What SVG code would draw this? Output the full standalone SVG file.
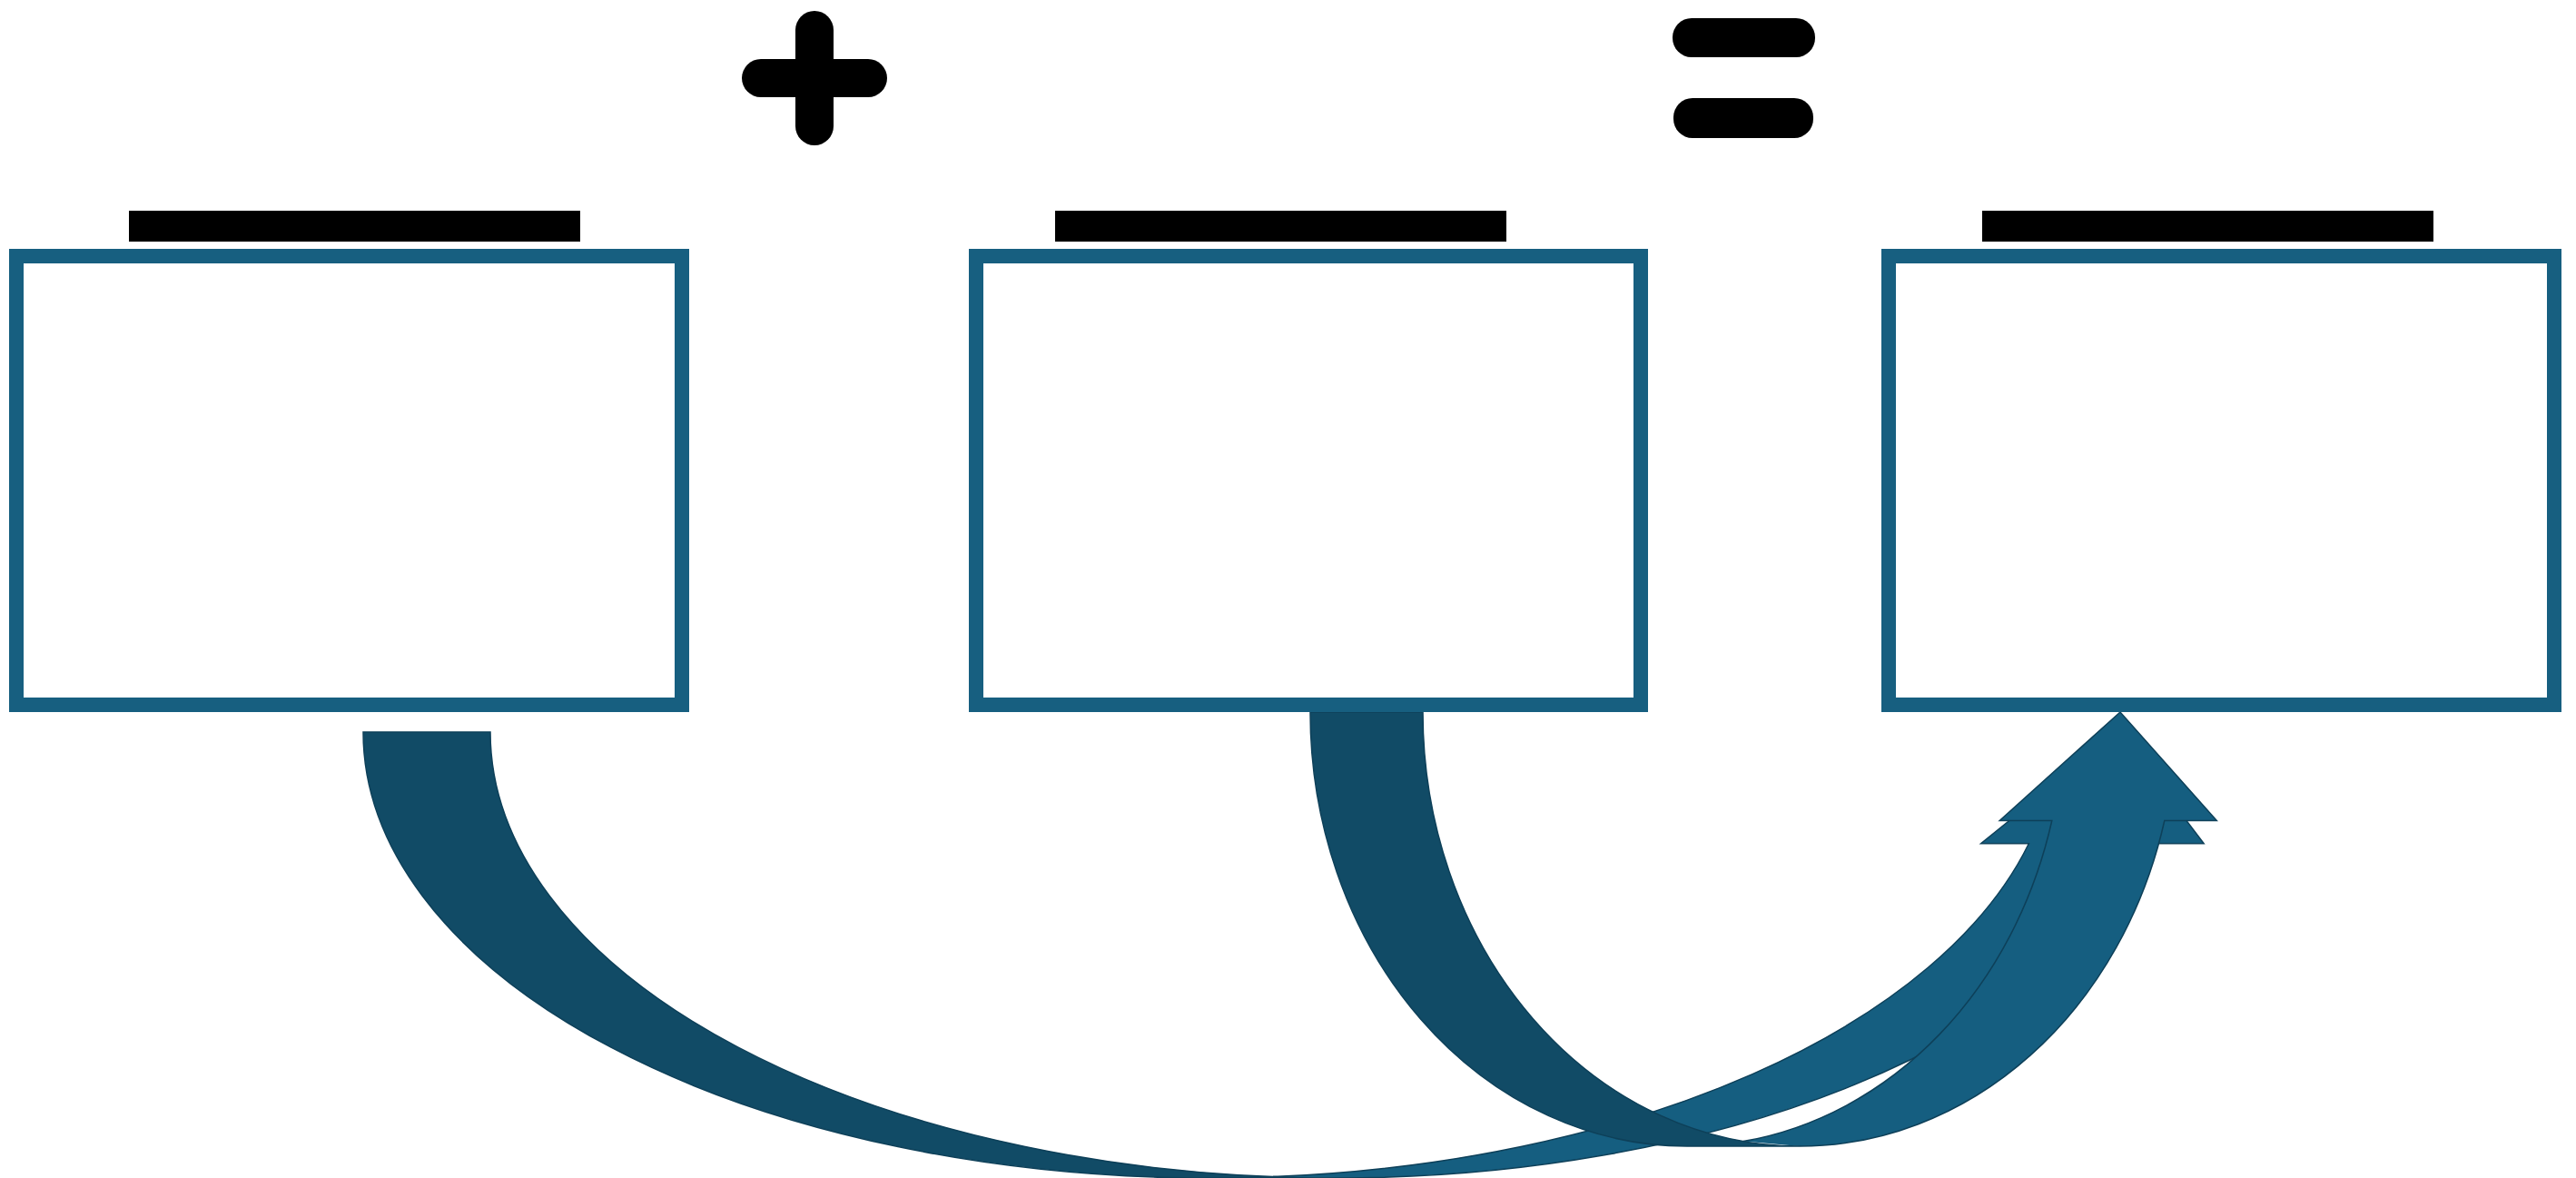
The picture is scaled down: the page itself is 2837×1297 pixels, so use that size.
<svg xmlns="http://www.w3.org/2000/svg" width="2837" height="1297" viewBox="0 0 2837 1297">
<style>
.box{fill:#ffffff;stroke:#175f80;stroke-width:16}
.bar{fill:#000000}
.back{fill:#114b66}
.front{fill:#155e80}
.edge{fill:none;stroke:#0e4059;stroke-width:1.5}
.sym{fill:#000000}
</style>
<rect width="2837" height="1297" fill="#ffffff"/>
<g id="connectors">
<g id="arrowA">
<path class="front" d="M2334,806 L2427.15,928.75 L2374.4,928.75 A932 491 0 0 1 1472,1297 L1402,1295.6 A932 491 0 0 0 2234.4,928.75 L2181.65,928.75 Z"/>
<path class="back" d="M1332,1297 A932 491 0 0 1 400,806 L540,806 A932 491 0 0 0 1472,1297 Z"/>
<path class="edge" d="M1402,1295.6 A932 491 0 0 0 2234.4,928.75 L2181.65,928.75 L2334,806 L2427.15,928.75 L2374.4,928.75 A932 491 0 0 1 1472,1297 L1332,1297 A932 491 0 0 1 400,806 L540,806 A932 491 0 0 0 1472,1297"/>
</g>
<g id="arrowB">
<path class="front" d="M2335,784 L2441.3,903.5 L2383.8,903.5 A415 478 0 0 1 1982,1262 L1920,1256.6 A415 478 0 0 0 2259.8,903.5 L2202.3,903.5 Z"/>
<path class="back" d="M1858,1262 A415 478 0 0 1 1443,784 L1567,784 A415 478 0 0 0 1982,1262 Z"/>
<path class="edge" d="M1920,1256.6 A415 478 0 0 0 2259.8,903.5 L2202.3,903.5 L2335,784 L2441.3,903.5 L2383.8,903.5 A415 478 0 0 1 1982,1262 L1858,1262 A415 478 0 0 1 1443,784 L1567,784 A415 478 0 0 0 1982,1262"/>
</g>
</g>
<g id="node1"><rect class="box" x="18" y="282" width="733" height="494"/><rect class="bar" x="142" y="232" width="497" height="34"/></g>
<g id="node2"><rect class="box" x="1075" y="282" width="732" height="494"/><rect class="bar" x="1162" y="232" width="497" height="34"/></g>
<g id="node3"><rect class="box" x="2080" y="282" width="733" height="494"/><rect class="bar" x="2183" y="232" width="497" height="34"/></g>
<g id="plus"><rect class="sym" x="876" y="12" width="42" height="148" rx="21"/><rect class="sym" x="817" y="65" width="160" height="42" rx="21"/></g>
<g id="equals"><rect class="sym" x="1842" y="20" width="157" height="43" rx="21"/><rect class="sym" x="1843" y="108" width="154" height="44" rx="21"/></g>
</svg>
